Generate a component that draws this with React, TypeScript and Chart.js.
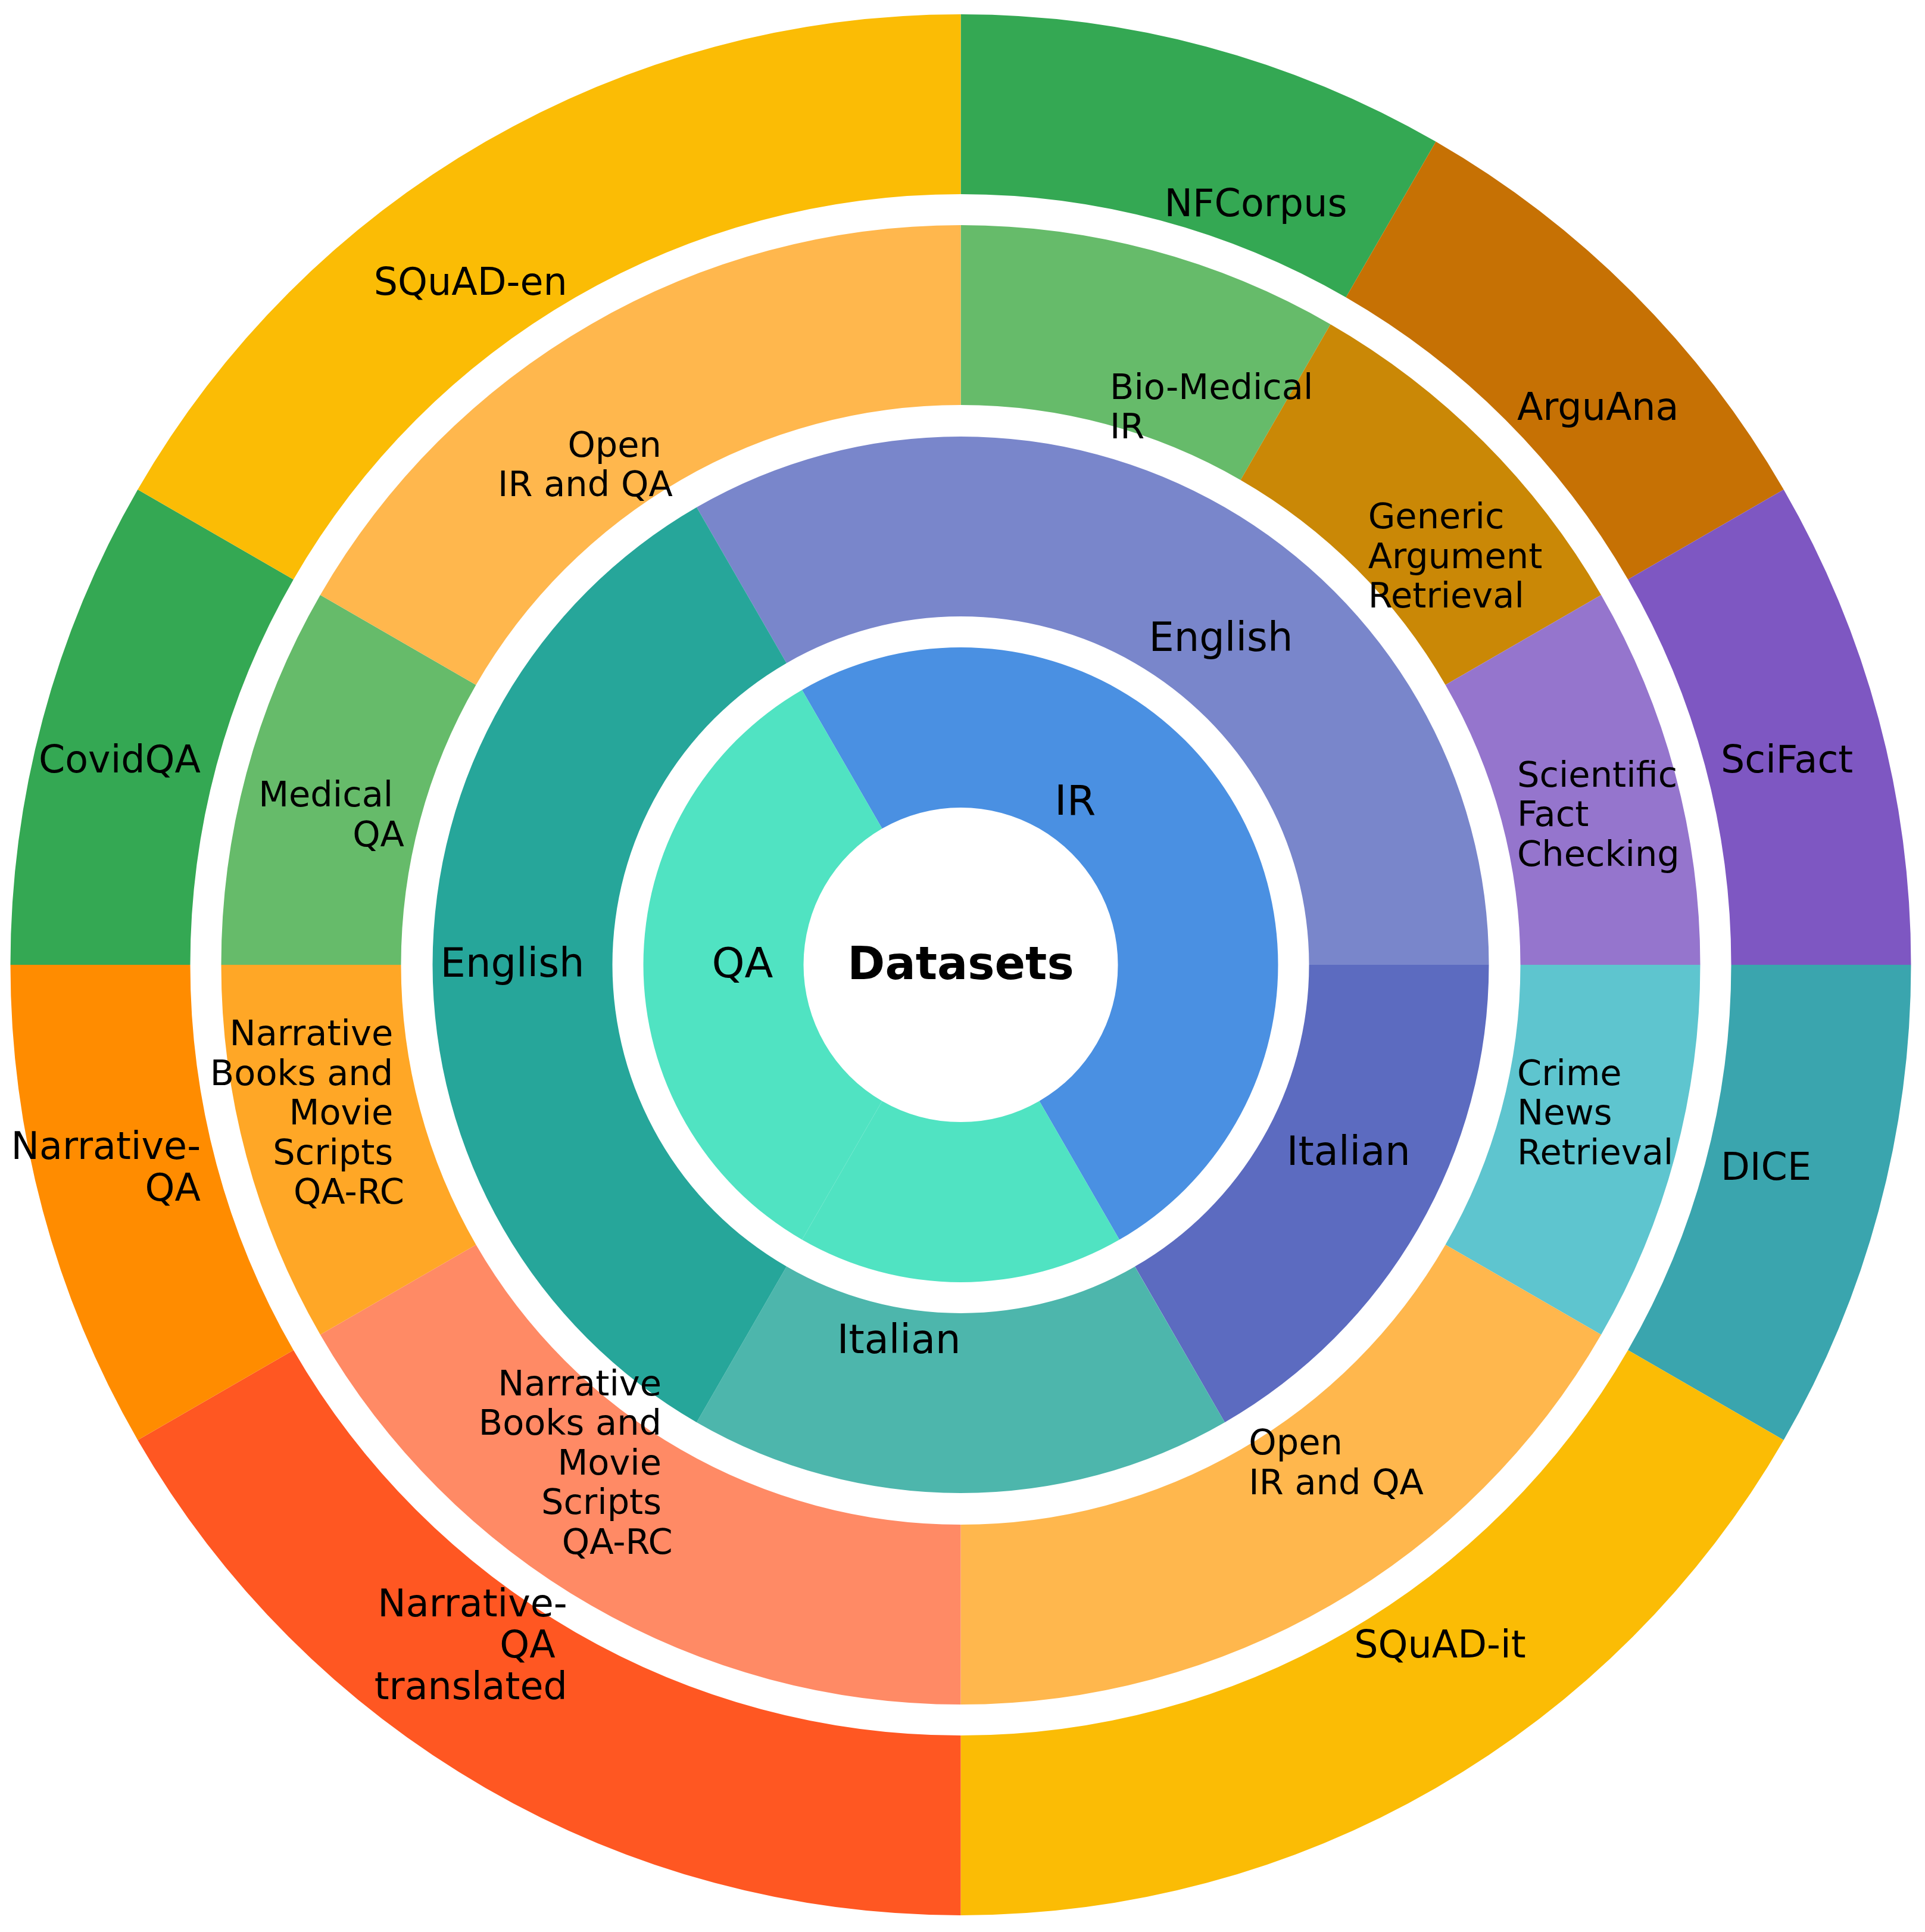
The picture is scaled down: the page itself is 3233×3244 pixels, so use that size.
import React, { useEffect, useRef } from 'react';
import { Chart, registerables } from 'chart.js';

Chart.register(...registerables);

// ---------- data ----------
const datasetLabels = ['NFCorpus', 'ArguAna', 'SciFact', 'DICE', 'SQuAD-it', 'Narrative-\nQA \ntranslated', 'Narrative-\nQA', 'CovidQA', 'SQuAD-en'];
const datasetSizes = [1, 1, 1, 1, 2, 2, 1, 1, 2];
const datasetColors = ['#34A853', '#C67104', '#7E57C2', '#3AA5AE', '#FBBC05', '#FF5722', '#FF8C00', '#34A853', '#FBBC05'];

const domainLabels = [
  'Bio-Medical \nIR',
  'Generic \nArgument \nRetrieval',
  'Scientific \nFact \nChecking',
  'Crime \nNews \nRetrieval',
  'Open \nIR and QA',
  'Narrative \nBooks and \nMovie \nScripts \nQA-RC',
  'Narrative \nBooks and \nMovie \nScripts \nQA-RC',
  'Medical \nQA',
  'Open \nIR and QA',
];
const domainSizes = [1, 1, 1, 1, 2, 2, 1, 1, 2];
const domainColors = ['#66BB6A', '#CA8806', '#9575CD', '#5EC5CF', '#FFB74D', '#FF8A65', '#FFA726', '#66BB6A', '#FFB74D'];

const languageLabels = ['English', 'Italian', 'Italian', 'English'];
const languageSizes = [4, 2, 2, 4];
const languageColors = ['#7986CB', '#5C6BC0', '#4DB6AC', '#26A69A'];

const taskLabels = ['IR', '', '', 'QA'];
const taskSizes = [4, 2, 2, 4];
const taskColors = ['#4A90E2', '#4A90E2', '#50E3C2', '#50E3C2'];

const centerTitle = 'Datasets';

// ---------- style ----------
const FONT = '"DejaVu Sans", "Liberation Sans", sans-serif';
const CANVAS_W = 3211;
const CANVAS_H = 3224;

type RingText = { labels: string[]; size: number; lh: number; dist: number } | null;

const ringTexts: RingText[] = [
  { labels: datasetLabels, size: 63.5, lh: 69.5, dist: 0.828 },
  null,
  { labels: domainLabels, size: 59, lh: 66.5, dist: 0.779 },
  null,
  { labels: languageLabels, size: 67, lh: 74, dist: 0.7125 },
  null,
  { labels: taskLabels, size: 70, lh: 77, dist: 0.591 },
];

const labelPlugin = {
  id: 'ringLabels',
  afterDatasetsDraw(chart: any) {
    const ctx: CanvasRenderingContext2D = chart.ctx;
    ctx.save();
    ctx.fillStyle = '#000000';
    chart.data.datasets.forEach((_ds: any, i: number) => {
      const cfg = ringTexts[i];
      if (!cfg) return;
      const meta = chart.getDatasetMeta(i);
      const outer = meta.controller.outerRadius;
      meta.data.forEach((arc: any, j: number) => {
        const text = cfg.labels[j];
        if (!text) return;
        const p = arc.getProps(['startAngle', 'endAngle', 'x', 'y'], true);
        const mid = (p.startAngle + p.endAngle) / 2;
        const R = outer * cfg.dist;
        const ax = p.x + R * Math.cos(mid);
        const ay = p.y + R * Math.sin(mid);
        const left = Math.cos(mid) > 1e-6;
        ctx.font = `${cfg.size}px ${FONT}`;
        ctx.textAlign = left ? 'left' : 'right';
        ctx.textBaseline = 'alphabetic';
        const lines = text.split('\n');
        lines.forEach((ln, k) => {
          ctx.fillText(ln, ax, ay + 0.3 * cfg.size + (k - (lines.length - 1) / 2) * cfg.lh);
        });
      });
    });
    // center title
    const m0 = chart.getDatasetMeta(0);
    const a0 = m0.data[0];
    if (a0) {
      ctx.font = `bold 76px ${FONT}`;
      ctx.textAlign = 'center';
      ctx.textBaseline = 'alphabetic';
      ctx.fillText(centerTitle, a0.x, a0.y + 0.31 * 76);
    }
    ctx.restore();
  },
};

const spacer = (w: number) => ({
  data: [1],
  backgroundColor: ['rgba(0,0,0,0)'],
  borderWidth: 0,
  weight: w,
});

export default function App() {
  const ref = useRef<HTMLCanvasElement | null>(null);
  useEffect(() => {
    if (!ref.current) return;
    const chart = new Chart(ref.current, {
      type: 'doughnut',
      data: {
        labels: datasetLabels,
        datasets: [
          { data: datasetSizes, backgroundColor: datasetColors, borderWidth: 0, weight: 302, rotation: 0 } as any,
          spacer(52),
          { data: domainSizes, backgroundColor: domainColors, borderWidth: 0, weight: 302, rotation: 0 } as any,
          spacer(53),
          { data: languageSizes, backgroundColor: languageColors, borderWidth: 0, weight: 302, rotation: -30 } as any,
          spacer(52),
          { data: taskSizes, backgroundColor: taskColors, borderWidth: 0, weight: 269, rotation: -30 } as any,
        ],
      },
      options: {
        responsive: false,
        animation: false,
        events: [],
        cutout: 264,
        layout: { padding: 9.5 },
        plugins: {
          legend: { display: false },
          tooltip: { enabled: false },
        },
      } as any,
      plugins: [labelPlugin],
    });
    return () => chart.destroy();
  }, []);
  return (
    <div style={{ width: CANVAS_W, height: CANVAS_H }}>
      <canvas ref={ref} width={CANVAS_W} height={CANVAS_H} style={{ display: 'block', width: CANVAS_W, height: CANVAS_H }} />
    </div>
  );
}
